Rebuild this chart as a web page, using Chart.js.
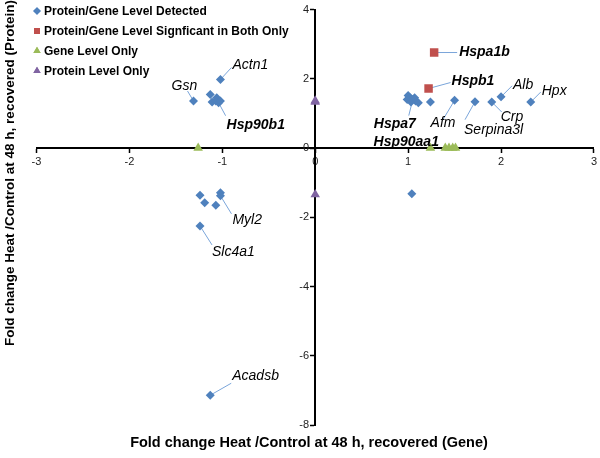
<!DOCTYPE html>
<html>
<head>
<meta charset="utf-8">
<script src="https://cdn.jsdelivr.net/npm/chart.js@4.4.1/dist/chart.umd.min.js"></script>
<style>
  html, body { margin: 0; padding: 0; background: #fff; }
  #wrap { width: 600px; height: 458px; position: relative; }
</style>
</head>
<body>
<div id="wrap"><canvas id="c" width="600" height="458"></canvas></div>
<script>
// ---- Data ----
const seriesNames = [
  'Protein/Gene Level Detected',
  'Protein/Gene Level Signficant in Both Only',
  'Gene Level Only',
  'Protein Level Only'
];
const detectedX = [-1.31, -1.02, -1.13, -1.11, -1.06, -1.04, -1.07, -1.02,
                   -1.24, -1.19, -1.02, -1.02, -1.07, -1.24, -1.13,
                   1.00, 1.02, 1.05, 1.08, 1.11, 0.99, 1.03, 1.07,
                   1.24, 1.50, 1.72, 1.90, 2.00, 2.32, 1.04];
const detectedY = [1.36, 1.98, 1.55, 1.33, 1.45, 1.31, 1.36, 1.36,
                   -1.36, -1.58, -1.29, -1.38, -1.65, -2.25, -7.14,
                   1.52, 1.45, 1.40, 1.36, 1.31, 1.40, 1.33, 1.45,
                   1.33, 1.38, 1.34, 1.33, 1.48, 1.33, -1.32];
const significantX = [1.28, 1.22];
const significantY = [2.76, 1.72];
const geneOnlyX = [-1.26, 1.24, 1.40, 1.44, 1.48, 1.51];
const geneOnlyY = [0, 0, 0, 0, 0, 0];
const proteinOnlyX = [0, 0, 0];
const proteinOnlyY = [1.33, 1.37, -1.34];
const xTicks = [-3, -2, -1, 0, 1, 2, 3];
const yTicks = [-8, -6, -4, -2, 0, 2, 4];

// gene labels: [gene, series index, point index, bold]
const geneLabels = [
  ['Gsn', 0, 0, false], ['Actn1', 0, 1, false], ['Hsp90b1', 0, 5, true],
  ['Myl2', 0, 11, false], ['Slc4a1', 0, 13, false], ['Acadsb', 0, 14, false],
  ['Hspa7', 0, 17, true], ['Hsp90aa1', 0, 18, true],
  ['Afm', 0, 24, false], ['Serpina3l', 0, 25, false], ['Crp', 0, 26, false],
  ['Alb', 0, 27, false], ['Hpx', 0, 28, false],
  ['Hspa1b', 1, 0, true], ['Hspb1', 1, 1, true]
];

// ---- Layout of labels (pixel offsets from the point): line end, text left/middle ----
const labelLayout = {
  Gsn:      {line: [-6, -10], text: [-22, -15]},
  Actn1:    {line: [11, -12], text: [12, -14]},
  Hsp90b1:  {line: [7, 13],   text: [8, 22]},
  Myl2:     {line: [11, 18],  text: [12, 24]},
  Slc4a1:   {line: [12, 19],  text: [12, 26]},
  Acadsb:   {line: [21, -12], text: [22, -19]},
  Hspa7:    {line: [-4, 16],  text: [-39, 25]},
  Hsp90aa1: {line: null,      text: [-42, 41]},
  Afm:      {line: [-12, 20], text: [-24, 23]},
  Serpina3l:{line: [-10, 18], text: [-11, 28]},
  Crp:      {line: [10, 10],  text: [9, 15]},
  Alb:      {line: [11, -11], text: [12, -12]},
  Hpx:      {line: [10, -10], text: [11, -11]},
  Hspa1b:   {line: [23, 0],   text: [25, 0]},
  Hspb1:    {line: [22, -6],  text: [23, -7]}
};

const colors = ['#4F81BD', '#C0504D', '#9BBB59', '#8064A2'];
const styles = ['rectRot', 'rect', 'triangle', 'triangle'];
const radii = [4.5, 6, 5.5, 5.5];

function pts(xs, ys) { return xs.map((x, i) => ({x: x, y: ys[i]})); }
const seriesData = [pts(detectedX, detectedY), pts(significantX, significantY),
                    pts(geneOnlyX, geneOnlyY), pts(proteinOnlyX, proteinOnlyY)];

const FONT = '"Liberation Sans", Arial, sans-serif';

const overlay = {
  id: 'overlay',
  beforeDatasetsDraw(chart) {
    const ctx = chart.ctx, xs = chart.scales.x, ys = chart.scales.y;
    ctx.save();
    ctx.strokeStyle = '#7AA5DA';
    ctx.lineWidth = 1;
    geneLabels.forEach(([g, s, i]) => {
      const L = labelLayout[g];
      if (!L || !L.line) return;
      const p = seriesData[s][i];
      const px = xs.getPixelForValue(p.x), py = ys.getPixelForValue(p.y);
      ctx.beginPath();
      ctx.moveTo(px, py);
      ctx.lineTo(px + L.line[0], py + L.line[1]);
      ctx.stroke();
    });
    ctx.restore();
  },
  afterDatasetsDraw(chart) {
    const ctx = chart.ctx, xs = chart.scales.x, ys = chart.scales.y;
    ctx.save();
    ctx.fillStyle = '#000';
    ctx.textBaseline = 'middle';
    ctx.textAlign = 'left';
    geneLabels.forEach(([g, s, i, bold]) => {
      const L = labelLayout[g];
      const p = seriesData[s][i];
      const px = xs.getPixelForValue(p.x), py = ys.getPixelForValue(p.y);
      ctx.font = (bold ? 'italic bold ' : 'italic ') + '14px ' + FONT;
      ctx.fillText(g, px + L.text[0], py + L.text[1]);
    });
    // legend
    const lx = 37, ly0 = 11, step = 20;
    seriesNames.forEach((name, k) => {
      const y = ly0 + k * step;
      ctx.fillStyle = colors[k];
      Chart.helpers.drawPoint(ctx, {pointStyle: styles[k], radius: k === 0 ? 3.8 : 4.2, rotation: 0, borderWidth: 0}, lx, y);
      ctx.fill();
      ctx.fillStyle = '#000';
      ctx.font = 'bold 12px ' + FONT;
      ctx.fillText(name, lx + 7, y + 0.5);
    });
    // axis titles
    ctx.textAlign = 'center';
    ctx.font = 'bold 14.5px ' + FONT;
    ctx.fillText('Fold change Heat /Control at 48 h, recovered (Gene)', 309, 443);
    ctx.translate(10, 173);
    ctx.rotate(-Math.PI / 2);
    ctx.font = 'bold 13.5px ' + FONT;
    ctx.fillText('Fold change Heat /Control at 48 h, recovered (Protein)', 0, 0);
    ctx.restore();
  }
};

new Chart(document.getElementById('c'), {
  type: 'scatter',
  data: {
    datasets: seriesNames.map((n, k) => ({
      label: n,
      data: seriesData[k],
      pointStyle: styles[k],
      pointRadius: radii[k],
      pointHoverRadius: radii[k],
      backgroundColor: colors[k],
      borderColor: colors[k],
      borderWidth: 0
    }))
  },
  options: {
    responsive: false,
    animation: false,
    events: [],
    layout: { padding: { left: 36.5, right: 2.5, top: 6, bottom: 33 } },
    plugins: { legend: { display: false }, tooltip: { enabled: false } },
    scales: {
      x: {
        type: 'linear', min: -3, max: 3,
        position: { y: 0 },
        afterBuildTicks: (s) => { s.ticks = xTicks.map(v => ({value: v})); },
        ticks: { font: { family: FONT, size: 11 }, color: '#222', padding: 3, maxRotation: 0 },
        grid: { drawOnChartArea: false, drawTicks: true, tickLength: 4, color: '#000', tickWidth: 1.5 },
        border: { display: true, color: '#000', width: 2 }
      },
      y: {
        type: 'linear', min: -8, max: 4,
        position: { x: 0 },
        afterBuildTicks: (s) => { s.ticks = yTicks.map(v => ({value: v})); },
        ticks: {
          font: { family: FONT, size: 11 }, color: '#222', padding: 3,
          callback: (v) => v + '  '
        },
        grid: { drawOnChartArea: false, drawTicks: true, tickLength: 4, color: '#000', tickWidth: 1.5 },
        border: { display: true, color: '#000', width: 2 }
      }
    }
  },
  plugins: [overlay]
});
</script>
</body>
</html>
